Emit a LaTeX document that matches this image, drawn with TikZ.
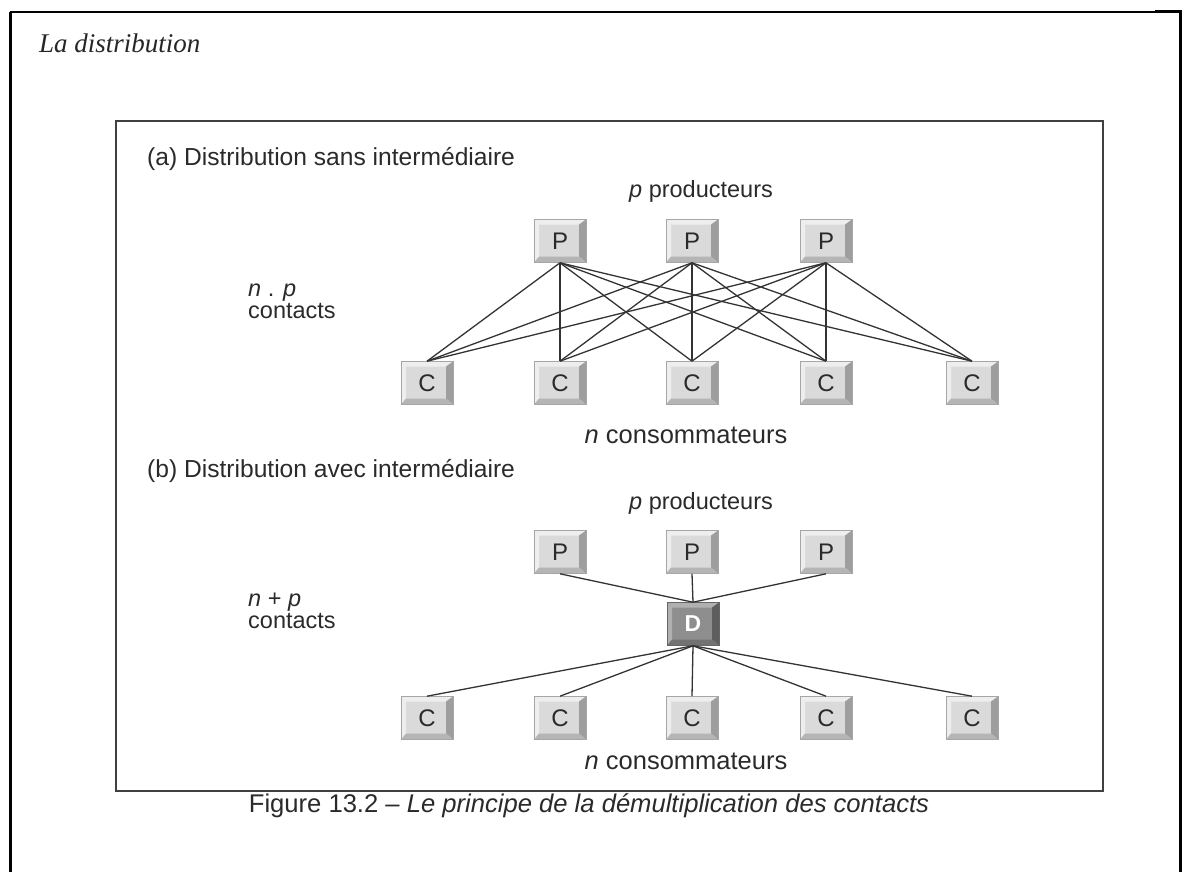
\documentclass[tikz,border=0pt]{standalone}
\usepackage{fontspec}
\setmainfont{Liberation Serif}
\setsansfont{Liberation Sans}
\definecolor{btnface}{HTML}{DADADA}
\definecolor{btnlight}{HTML}{EEEEEE}
\definecolor{btndark}{HTML}{9E9E9E}
\definecolor{btnbottom}{HTML}{B5B5B5}
\definecolor{dface}{HTML}{8E8E8E}
\definecolor{dlight}{HTML}{B0B0B0}
\definecolor{ddark}{HTML}{5E5E5E}
\definecolor{dbottom}{HTML}{727272}
\definecolor{linec}{HTML}{333333}
\definecolor{txt}{HTML}{2A2A2A}
\newcommand{\bevels}[4]{%
  \fill[#1] (path picture bounding box.north west) rectangle (path picture bounding box.south east);
  \fill[#2] (path picture bounding box.north west) -- (path picture bounding box.north east)
     -- ([xshift=-5pt,yshift=-5pt]path picture bounding box.north east) -- ([xshift=5pt,yshift=-5pt]path picture bounding box.north west) -- cycle;
  \fill[#2] (path picture bounding box.north west) -- (path picture bounding box.south west)
     -- ([xshift=5pt,yshift=5pt]path picture bounding box.south west) -- ([xshift=5pt,yshift=-5pt]path picture bounding box.north west) -- cycle;
  \fill[#3] (path picture bounding box.north east) -- (path picture bounding box.south east)
     -- ([xshift=-7pt,yshift=6pt]path picture bounding box.south east) -- ([xshift=-7pt,yshift=-5pt]path picture bounding box.north east) -- cycle;
  \fill[#4] (path picture bounding box.south west) -- (path picture bounding box.south east)
     -- ([xshift=-7pt,yshift=6pt]path picture bounding box.south east) -- ([xshift=5pt,yshift=6pt]path picture bounding box.south west) -- cycle;
}
\tikzset{
  x=1pt, y=-1pt,
  btn/.style={rectangle, minimum width=52pt, minimum height=43pt, inner sep=0pt,
    draw=gray!70, line width=0.6pt, font=\sffamily\fontsize{24}{24}\selectfont, text=txt,
    path picture={\bevels{btnface}{btnlight}{btndark}{btnbottom}}},
  dbtn/.style={btn, text=white, font=\sffamily\bfseries\fontsize{23}{23}\selectfont,
    draw=gray!80!black, path picture={\bevels{dface}{dlight}{ddark}{dbottom}}},
  lbl/.style={font=\sffamily\fontsize{23.5}{26}\selectfont, text=txt, inner sep=0pt},
  head/.style={lbl, font=\sffamily\fontsize{24.6}{26}\selectfont},
  cons/.style={lbl, font=\sffamily\fontsize{25.5}{26}\selectfont},
  capt/.style={lbl, font=\sffamily\fontsize{25.6}{26}\selectfont},
  link/.style={draw=linec, line width=1.3pt},
  pageline/.style={draw=black, line width=3pt}
}
\begin{document}
\begin{tikzpicture}
\useasboundingbox (0,0) rectangle (1186,872);
% page borders
\draw[pageline] (10,872) -- (10,12);
\draw[draw=black, line width=1.6pt] (10,12) -- (1156,12);
\draw[pageline] (1155,12) -- (1181.5,12);
\draw[pageline] (1180,12) -- (1180,872);
\node[font=\itshape\fontsize{27}{28}\selectfont, text=black!85, anchor=base west, inner sep=0pt] (title) at (39,53) {La distribution};
% inner frame
\node[draw=black!75, line width=2pt, minimum width=987pt, minimum height=670pt, inner sep=0pt, anchor=north west] (frame) at (115,120) {};

% (a)
\node[head, anchor=base west] (ta) at (147,165) {(a) Distribution sans intermédiaire};
\node[lbl, anchor=base] (pa) at (701,197) {\textit{p} producteurs};
\node[lbl, anchor=base west] (npa) at (248,296) {\textit{n} . \textit{p}};
\node[lbl, anchor=base west] (ca) at (248,318) {contacts};
\node[cons, anchor=base] (na) at (686,443) {\textit{n} consommateurs};

\node[btn] (P1) at (560,241) {P};
\node[btn] (P2) at (692,241) {P};
\node[btn] (P3) at (826,241) {P};
\node[btn] (C1) at (427,383) {C};
\node[btn] (C2) at (560,383) {C};
\node[btn] (C3) at (692,383) {C};
\node[btn] (C4) at (826,383) {C};
\node[btn] (C5) at (972,383) {C};
\foreach \p in {P1,P2,P3}{
  \foreach \c in {C1,C2,C3,C4,C5}{
    \draw[link] (\p.south) -- (\c.north);
  }
}

% (b)
\node[head, anchor=base west] (tb) at (147,477) {(b) Distribution avec intermédiaire};
\node[lbl, anchor=base] (pb) at (701,509) {\textit{p} producteurs};
\node[lbl, anchor=base west] (npb) at (248,606) {\textit{n} + \textit{p}};
\node[lbl, anchor=base west] (cb) at (248,628) {contacts};
\node[cons, anchor=base] (nb) at (686,769) {\textit{n} consommateurs};

\node[btn] (Q1) at (560,552) {P};
\node[btn] (Q2) at (692,552) {P};
\node[btn] (Q3) at (826,552) {P};
\node[dbtn] (D) at (693,624) {D};
\node[btn] (E1) at (427,718) {C};
\node[btn] (E2) at (560,718) {C};
\node[btn] (E3) at (692,718) {C};
\node[btn] (E4) at (826,718) {C};
\node[btn] (E5) at (972,718) {C};
\foreach \p in {Q1,Q2,Q3}{ \draw[link] (\p.south) -- (D.north); }
\foreach \c in {E1,E2,E3,E4,E5}{ \draw[link] (D.south) -- (\c.north); }

% caption
\node[capt, anchor=base] (cap) at (589,812) {Figure 13.2 -- \textit{Le principe de la démultiplication des contacts}};
\end{tikzpicture}
\end{document}
